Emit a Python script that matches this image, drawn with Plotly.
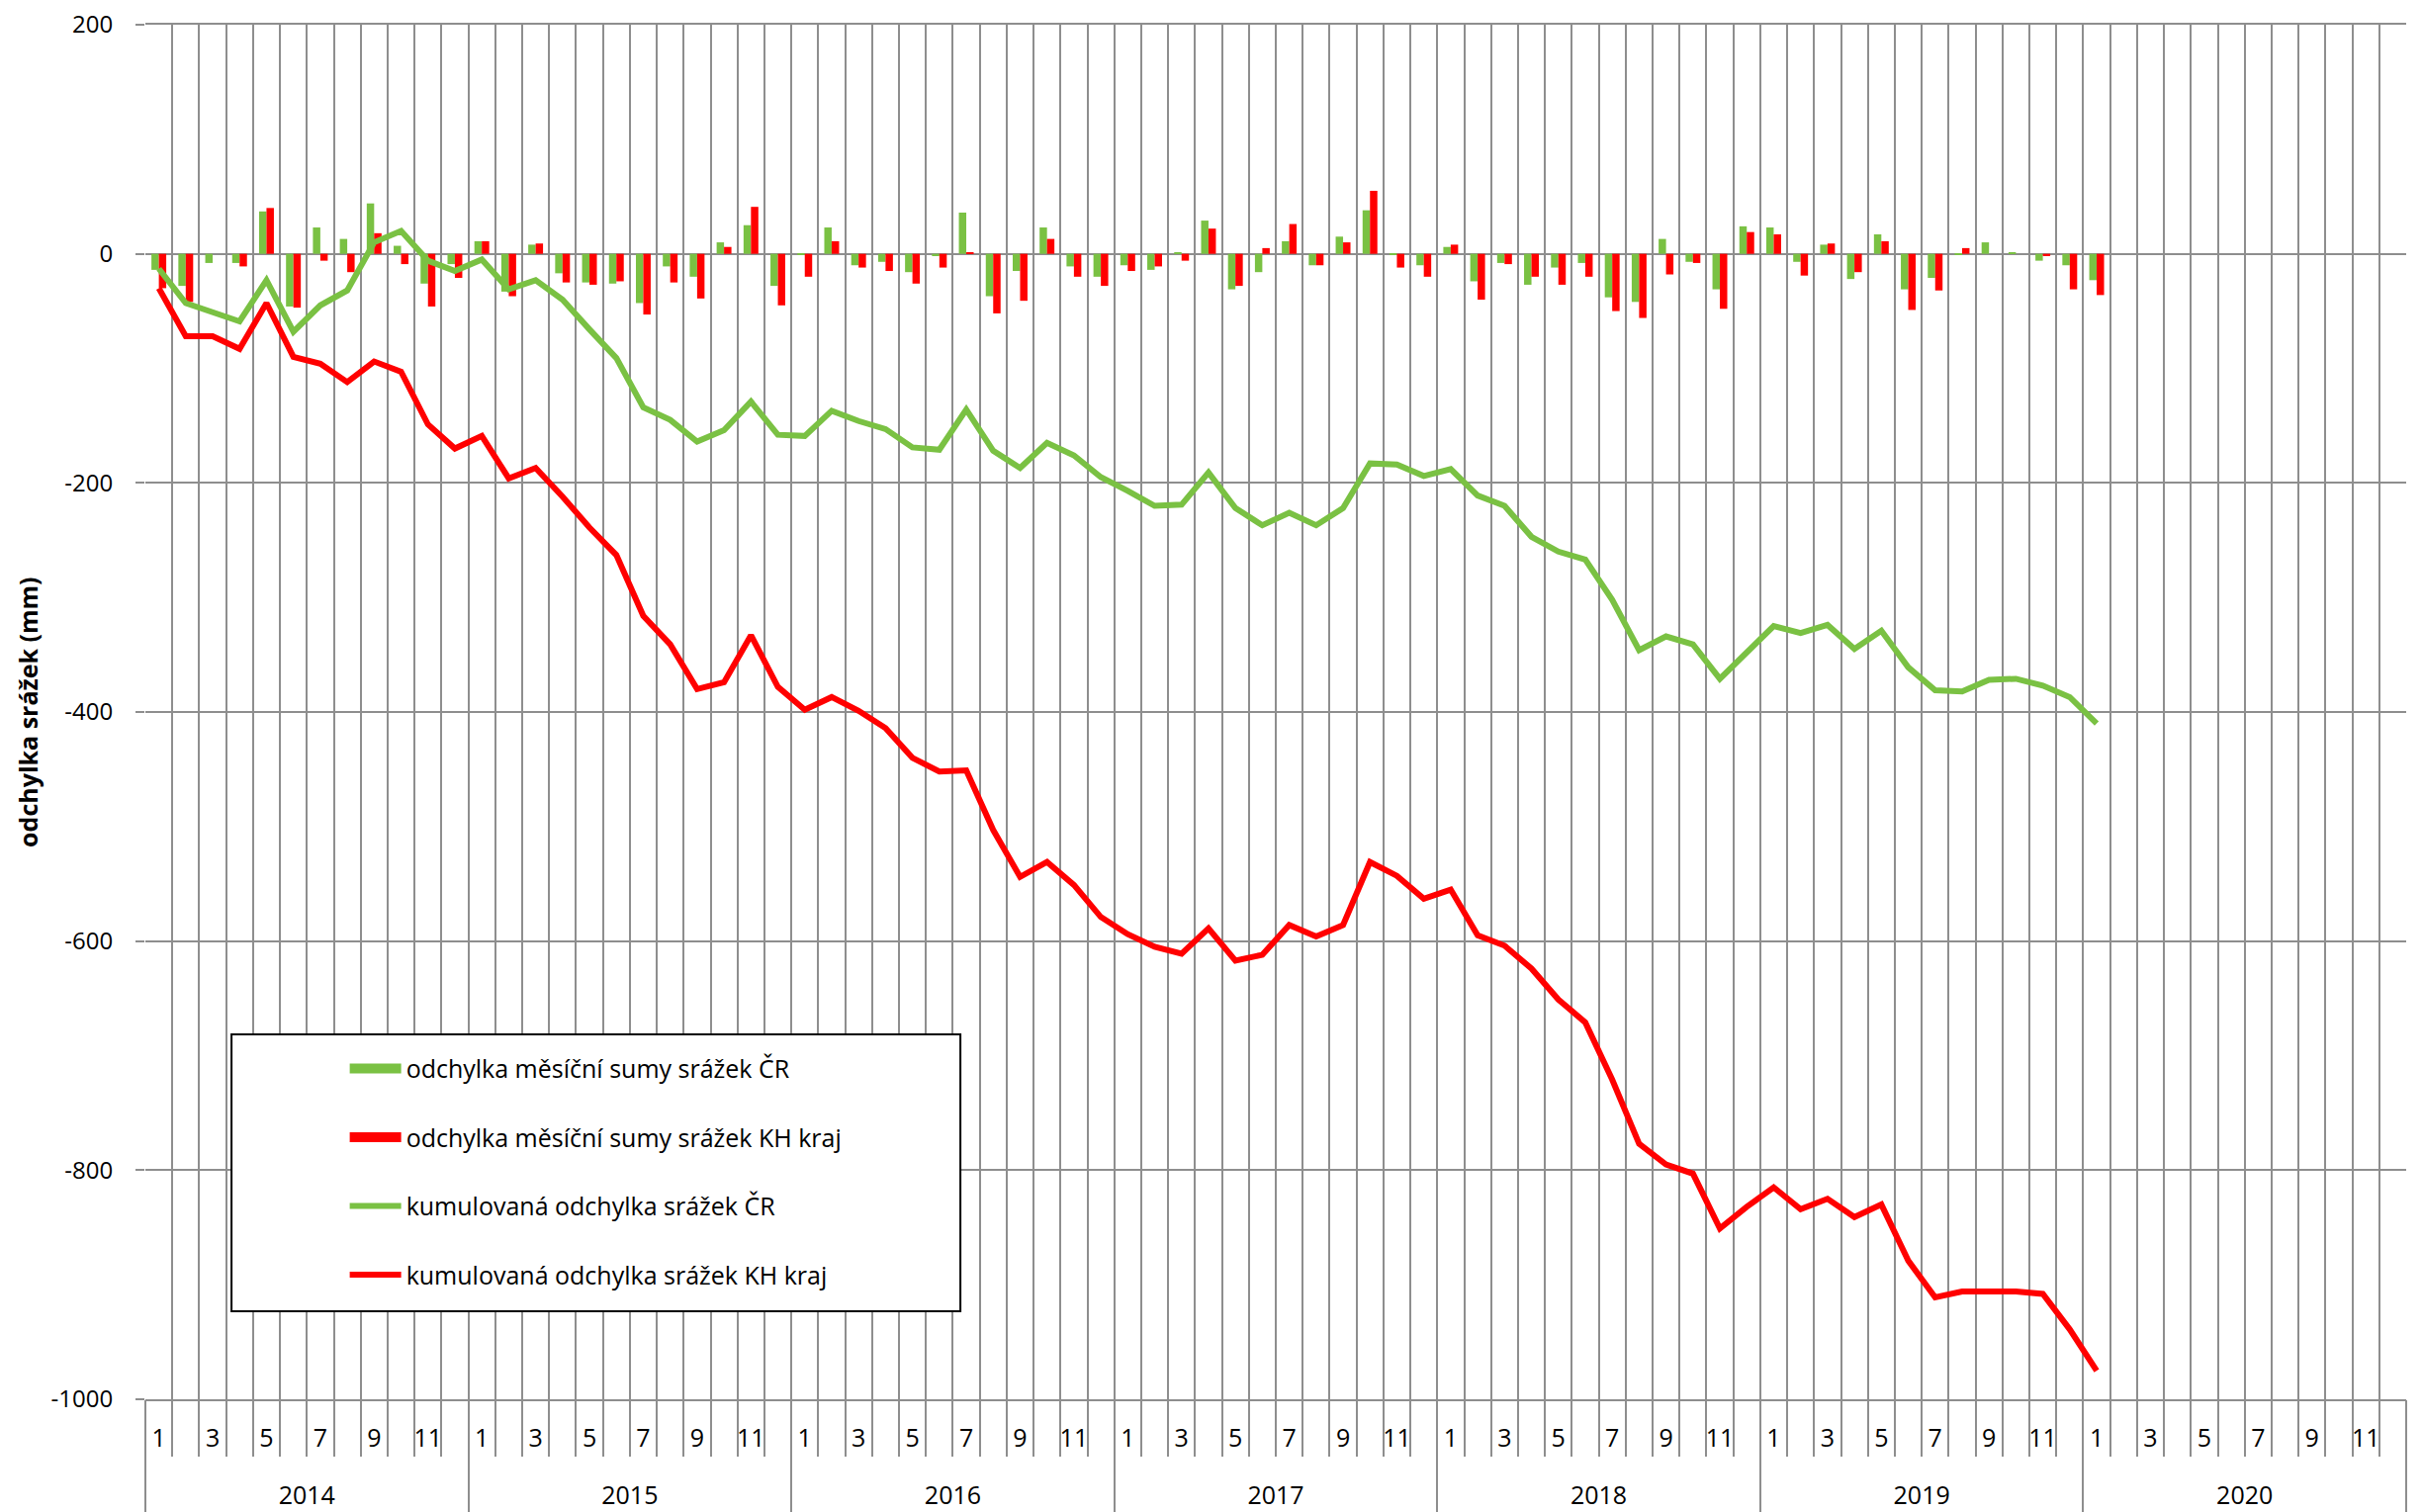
import plotly.graph_objects as go

# ---------------- data ----------------
years = ["2014", "2015", "2016", "2017", "2018", "2019", "2020"]
month_numbers = list(range(1, 13))
y_tick_values = [200, 0, -200, -400, -600, -800, -1000]
y_tick_labels = ["200", "0", "-200", "-400", "-600", "-800", "-1000"]
y_title = "odchylka srážek (mm)"

series_names = [
    "odchylka měsíční sumy srážek ČR",
    "odchylka měsíční sumy srážek KH kraj",
    "kumulovaná odchylka srážek ČR",
    "kumulovaná odchylka srážek KH kraj",
]

# monthly deviation, Czech Republic (mm), Jan 2014 .. Jan 2020
green_bars = [
    -14, -28, -8, -8, 37, -46, 23, 13, 44, 7, -26, -9,
    11, -33, 8, -17, -25, -26, -43, -11, -20, 10, 25, -28,
    -1, 23, -10, -7, -16, -2, 36, -37, -15, 23, -11, -20,
    -10, -14, 1, 29, -31, -16, 11, -10, 15, 38, -1, -10,
    6, -24, -8, -27, -12, -8, -38, -42, 13, -7, -31, 24,
    23, -7, 8, -22, 17, -31, -21, -1, 10, 1, -6, -10,
    -23,
]
# monthly deviation, Hradec Kralove region (mm)
red_bars = [
    -30, -42, 0, -11, 40, -47, -6, -16, 18, -9, -46, -21,
    11, -37, 9, -25, -27, -24, -53, -25, -39, 6, 41, -45,
    -20, 11, -12, -15, -26, -12, 1, -52, -41, 13, -20, -28,
    -15, -11, -6, 22, -28, 5, 26, -10, 10, 55, -12, -20,
    8, -40, -9, -20, -27, -20, -50, -56, -18, -8, -48, 19,
    17, -19, 9, -16, 11, -49, -32, 5, 0, 0, -2, -31,
    -36,
]
# cumulative deviation, Czech Republic (mm)
green_cum = [
    -13, -43, -51, -59, -23, -68, -45, -32, 10, 20, -6, -15,
    -5, -31, -23, -40, -66, -91, -134, -145, -164, -154, -129, -158,
    -159, -137, -146, -153, -169, -171, -136, -172, -187, -165, -176, -195,
    -207, -220, -219, -191, -222, -237, -226, -237, -222, -183, -184, -194,
    -188, -211, -220, -247, -260, -267, -302, -346, -334, -341, -371, -348,
    -325, -331, -324, -345, -329, -361, -381, -382, -372, -371, -377, -387,
    -410,
]
# cumulative deviation, Hradec Kralove region (mm)
red_cum = [
    -30, -72, -72, -83, -43, -90, -96, -112, -94, -103, -149, -170,
    -159, -196, -187, -212, -239, -263, -316, -341, -380, -374, -333, -378,
    -398, -387, -399, -414, -440, -452, -451, -503, -544, -531, -551, -579,
    -594, -605, -611, -589, -617, -612, -586, -596, -586, -531, -543, -563,
    -555, -595, -604, -624, -651, -671, -721, -777, -795, -803, -851, -832,
    -815, -834, -825, -841, -830, -879, -911, -906, -906, -906, -908, -939,
    -975,
]

# ---------------- styling ----------------
GREEN = "#7AC143"
RED = "#FF0000"
GRID = "#8E8E8E"
FONT = "Open Sans"

n_months = len(years) * len(month_numbers)
x_idx = list(range(len(green_bars)))
x_range = [-0.5, n_months - 0.5]

fig = go.Figure()
fig.add_trace(go.Bar(x=x_idx, y=green_bars, marker=dict(color=GREEN, line=dict(width=0)),
                     name=series_names[0], showlegend=False))
fig.add_trace(go.Bar(x=x_idx, y=red_bars, marker=dict(color=RED, line=dict(width=0)),
                     name=series_names[1], showlegend=False))
fig.add_trace(go.Scatter(x=x_idx, y=green_cum, mode="lines", name=series_names[2],
                         line=dict(color=GREEN, width=6), legendrank=3, legendgroup="g3"))
fig.add_trace(go.Scatter(x=x_idx, y=red_cum, mode="lines", name=series_names[3],
                         line=dict(color=RED, width=6), legendrank=4, legendgroup="g4"))
# legend proxies for the bar series (wide rectangular swatches)
fig.add_trace(go.Scatter(x=[None], y=[None], mode="lines", name=series_names[0],
                         line=dict(color=GREEN, width=16), legendrank=1, legendgroup="g1"))
fig.add_trace(go.Scatter(x=[None], y=[None], mode="lines", name=series_names[1],
                         line=dict(color=RED, width=16), legendrank=2, legendgroup="g2"))

# helper (empty) traces so the overlay axes exist
for ax in ["x2", "x3", "x4"]:
    fig.add_trace(go.Scatter(x=[None], y=[None], xaxis=ax, showlegend=False, hoverinfo="skip"))

month_bounds = [i - 0.5 for i in range(n_months + 1)]
year_bounds = [12 * k - 0.5 for k in range(len(years) + 1)]
month_label_pos = [i for i in range(n_months) if (i % 12) % 2 == 0]
month_label_txt = [str(i % 12 + 1) for i in month_label_pos]
year_label_pos = [12 * k + 5.5 for k in range(len(years))]

tick_font = dict(family=FONT, size=24, color="#000000")
x_tick_font = dict(family=FONT, size=25, color="#000000")

# the page body has an 8px margin, so the figure is sized/offset accordingly
fig.update_layout(
    width=2433, height=1521,
    margin=dict(l=139, r=8, t=17, b=114),
    paper_bgcolor="white", plot_bgcolor="white",
    barmode="group", bargap=0.45, bargroupgap=0,
    font=dict(family=FONT, size=24, color="#000000"),
    xaxis=dict(range=x_range, tickmode="array", tickvals=month_bounds, showticklabels=False,
               showgrid=True, gridcolor=GRID, gridwidth=2, ticks="outside", ticklen=56,
               tickcolor=GRID, tickwidth=2, zeroline=False, showline=True, mirror=True,
               linecolor=GRID, linewidth=2, automargin=False),
    xaxis2=dict(overlaying="x", matches="x", range=x_range, tickmode="array", tickvals=year_bounds,
                showticklabels=False, showgrid=False, ticks="outside", ticklen=114,
                tickcolor=GRID, tickwidth=2, zeroline=False, showline=False, automargin=False),
    xaxis3=dict(overlaying="x", matches="x", range=x_range, tickmode="array",
                tickvals=month_label_pos, ticktext=month_label_txt, tickfont=x_tick_font,
                showgrid=False, ticks="outside", ticklen=17, tickcolor="rgba(0,0,0,0)",
                zeroline=False, showline=False, automargin=False, ticklabeloverflow="allow"),
    xaxis4=dict(overlaying="x", matches="x", range=x_range, tickmode="array",
                tickvals=year_label_pos, ticktext=years, tickfont=x_tick_font,
                showgrid=False, ticks="outside", ticklen=75, tickcolor="rgba(0,0,0,0)",
                zeroline=False, showline=False, automargin=False, ticklabeloverflow="allow"),
    yaxis=dict(range=[-1000, 200], tickmode="array", tickvals=y_tick_values,
               ticktext=y_tick_labels, tickfont=tick_font, showgrid=True, gridcolor=GRID,
               gridwidth=2, ticks="outside", ticklen=9, tickcolor=GRID, tickwidth=2,
               ticklabelstandoff=18, zeroline=False, showline=False, automargin=False,
               ticklabeloverflow="allow"),
    legend=dict(x=0.0882, y=0.257, xanchor="left", yanchor="top", bgcolor="rgba(0,0,0,0)",
                borderwidth=0, font=dict(family=FONT, size=25), traceorder="grouped",
                tracegroupgap=34, itemwidth=52),
    shapes=[dict(type="rect", xref="paper", yref="paper", x0=0.0381, x1=0.3605,
                 y0=0.064, y1=0.2655, fillcolor="white", line=dict(color="black", width=2),
                 layer="above")],
    annotations=[dict(text="<b>" + y_title + "</b>", xref="paper", yref="paper",
                      x=-0.0521, y=0.5, xanchor="center", yanchor="middle", textangle=-90,
                      showarrow=False, font=dict(family=FONT, size=25, color="#000000"))],
)

fig.write_html("out.html")
